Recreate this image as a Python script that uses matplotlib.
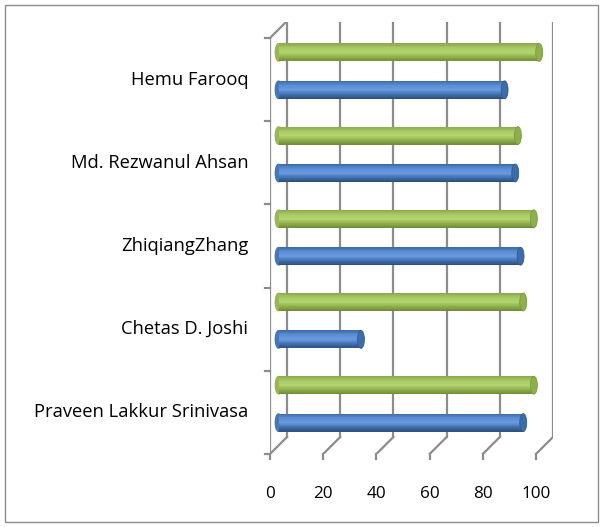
import matplotlib.pyplot as plt
import numpy as np
from matplotlib.colors import LinearSegmentedColormap
from matplotlib.patches import Ellipse, Rectangle

# data (bottom to top)
names = ['Praveen Lakkur Srinivasa', 'Chetas D. Joshi', 'ZhiqiangZhang',
         'Md. Rezwanul Ahsan', 'Hemu Farooq']
blue_vals = [92, 31, 91, 89, 85]
green_vals = [96, 92, 96, 90, 98]
xticks = [0, 20, 40, 60, 80, 100]

W, H = 603, 527
fig = plt.figure(figsize=(W / 100, H / 100), dpi=100)

# axes box in pixels: front plane 0..100 -> 270..536, depth 17 px
px_per_x = 2.66
px_per_cat = 83.2
depth = 17
left, right, top, bottom = 270, 270 + 100 * px_per_x + depth, 22, 454
ax = fig.add_axes([left / W, (H - bottom) / H, (right - left) / W, (bottom - top) / H])
ax.set_xlim(0, (right - left) / px_per_x)
ax.set_ylim(-0.5, -0.5 + (bottom - top) / px_per_cat)
ax.axis('off')

ddx = depth / px_per_x
ddy = depth / px_per_cat
n = len(names)
grid_c = '#8c8c8c'
lw = 1.6

# back wall gridlines
for xt in xticks:
    ax.plot([xt + ddx, xt + ddx], [-0.5 + ddy, n - 0.5 + ddy], color=grid_c, lw=lw, zorder=1)
    # floor diagonals
    ax.plot([xt, xt + ddx], [-0.5, -0.5 + ddy], color=grid_c, lw=lw, zorder=1)
    # tick marks below
    ax.plot([xt, xt], [-0.5, -0.56], color=grid_c, lw=lw, zorder=1, clip_on=False)

# left wall
ax.plot([0, 0], [-0.5, n - 0.5], color=grid_c, lw=lw, zorder=1)
ax.plot([0, ddx], [n - 0.5, n - 0.5 + ddy], color=grid_c, lw=lw, zorder=1)
for i in range(n + 1):
    ax.plot([-1.9, 0], [i - 0.5, i - 0.5], color=grid_c, lw=lw, zorder=1, clip_on=False)

# cylinders
green_cm = LinearSegmentedColormap.from_list('g', ['#6f8a36', '#8fb04c', '#b3d46e', '#a9c964', '#8aa84a'])
blue_cm = LinearSegmentedColormap.from_list('b', ['#2b4d78', '#3f6fad', '#6a9be0', '#5b8ed3', '#3c6aa6'])
bh = 0.215
strips = 24


def cylinder(yc, val, cmap, cap):
    x0 = ddx / 2
    yb = yc - bh / 2
    ax.add_patch(Ellipse((x0, yc), 2.4, bh * 0.97, color=cmap(0.3), zorder=2))
    for k in range(strips):
        t = (k + 0.5) / strips
        ax.barh(yb + t * bh, val, left=x0, height=bh / strips * 1.05,
                color=cmap(t), edgecolor='none', zorder=3)
    ax.add_patch(Ellipse((x0 + val, yc), 2.6, bh, facecolor=cap, edgecolor=cmap(0.1),
                         lw=0.6, zorder=4))


for i in range(n):
    yc = i + ddy / 2
    cylinder(yc + 0.225, green_vals[i], green_cm, '#8faf4e')
    cylinder(yc - 0.225, blue_vals[i], blue_cm, '#3e6ca8')

# labels
for i, name in enumerate(names):
    ax.text(-8.2, i, name, ha='right', va='center', fontsize=13.2,
            family='Open Sans', color='black', clip_on=False)
for xt in xticks:
    ax.text(xt, -0.98, str(xt), ha='center', va='center', fontsize=12.3,
            family='Open Sans', color='black', clip_on=False)

# chart border
fig.patches.append(Rectangle((5 / W, 5 / H), 593 / W, 517 / H, transform=fig.transFigure,
                             fill=False, edgecolor='#8c8c8c', lw=1))

fig.savefig('out.png', dpi=100)
